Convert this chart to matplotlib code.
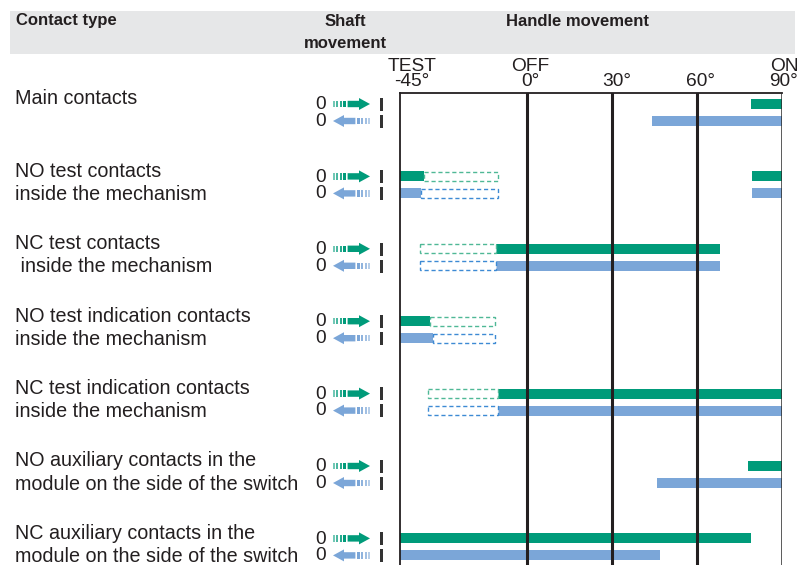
import numpy as np
import matplotlib
matplotlib.use("Agg")
import matplotlib.pyplot as plt
from matplotlib.patches import Rectangle, Polygon

# contact types (two lines where the label wraps)
labels = [
    ["Main contacts"],
    ["NO test contacts", "inside the mechanism"],
    ["NC test contacts", " inside the mechanism"],
    ["NO test indication contacts", "inside the mechanism"],
    ["NC test indication contacts", "inside the mechanism"],
    ["NO auxiliary contacts in the", "module on the side of the switch"],
    ["NC auxiliary contacts in the", "module on the side of the switch"],
]

# closed ranges of the contacts in handle degrees, per row
# solid = contact closed, dashed = closed only while the handle is held in TEST
green_solid = [[(79, 90)], [(-45, -36.5), (79.5, 90)], [(-11, 68)], [(-45, -34.5)],
               [(-10.5, 90)], [(78, 90)], [(-45, 79)]]
green_dash = [[], [(-36.5, -10.5)], [(-38, -11)], [(-34.5, -11.5)],
              [(-35, -10.5)], [], []]
blue_solid = [[(44, 90)], [(-45, -37.5), (79.5, 90)], [(-11, 68)], [(-45, -33.5)],
              [(-10.5, 90)], [(46, 90)], [(-45, 47)]]
blue_dash = [[], [(-37.5, -10.5)], [(-38, -11)], [(-33.5, -11.5)],
             [(-35, -10.5)], [], []]

ticks = [-45, 0, 30, 60, 90]
tick_labels = ["TEST\n-45°", "OFF\n0°", "30°", "60°", "ON\n90°"]

GREEN = "#009b7a"
BLUE = "#7ba6d8"
GREEN_EDGE = "#4fb896"
BLUE_EDGE = "#3d8ad4"
DARK = "#231f20"
FS = 14.2

plt.rcParams['font.family'] = ['Liberation Sans', 'DejaVu Sans']

fig = plt.figure(figsize=(8.08, 5.65), dpi=100)

# background axes in pixel units for header, labels and shaft icons
bg = fig.add_axes([0, 0, 1, 1])
bg.set_xlim(0, 808)
bg.set_ylim(565, 0)
bg.axis("off")

bg.add_patch(Rectangle((10, 11), 785, 43, color="#e6e7e8", lw=0))
hdr = dict(weight="bold", fontsize=12, color=DARK, va="center")
bg.text(16, 21, "Contact type", ha="left", **hdr)
bg.text(345, 21, "Shaft", ha="center", **hdr)
bg.text(345, 43, "movement", ha="center", **hdr)
bg.text(577, 21, "Handle movement", ha="center", **hdr)

row0, row_step, half = 112.5, 72.4, 8.5
rows = [row0 + row_step * i for i in range(len(labels))]


def arrow(ax, x0, y, right, color):
    # striped tail followed by a solid arrow
    stripes = [(0, 1.6), (3.2, 5.0), (6.6, 8.9), (10.4, 13.4)]
    alphas = [0.55, 0.7, 0.85, 1.0]
    s = 1 if right else -1
    for (a, b), al in zip(stripes, alphas):
        xa = x0 + s * a
        xb = x0 + s * b
        ax.add_patch(Rectangle((min(xa, xb), y - 3.2), abs(xb - xa), 6.4,
                               color=color, alpha=al, lw=0))
    pts = [(14.6, -3.2), (26, -3.2), (26, -6.0), (37, 0), (26, 6.0),
           (26, 3.2), (14.6, 3.2)]
    ax.add_patch(Polygon([(x0 + s * px, y + py) for px, py in pts],
                         closed=True, color=color, lw=0))


for i, lab in enumerate(labels):
    yc = rows[i]
    bg.text(15, yc - 13.5, lab[0], fontsize=FS, color=DARK, va="center")
    if len(lab) > 1:
        bg.text(15, yc + 9.5, lab[1], fontsize=FS, color=DARK, va="center")
    # both shaft positions as one two-line text
    bg.text(321, yc + 0.5, "0\n0", fontsize=13.8, color=DARK, ha="center",
            va="center", linespacing=0.97)
    for y, right, col in [(yc - half, True, GREEN), (yc + half, False, BLUE)]:
        bg.add_patch(Rectangle((380, y - 6.3), 2.5, 13, color="#333333", lw=0))
        if right:
            arrow(bg, 333, y, True, col)
        else:
            arrow(bg, 370, y, False, col)

# switching diagram
ax = fig.add_axes([400 / 808, 0, 382 / 808, 472 / 565])
ax.set_xlim(-45, 90)
ax.set_ylim(565, 93)
ax.patch.set_alpha(0)

bh = 10
for i in range(len(labels)):
    yg = rows[i] - half
    yb = rows[i] + half
    for a, b in green_solid[i]:
        ax.barh(yg, b - a, left=a, height=bh, color=GREEN, lw=0, zorder=2)
    for a, b in blue_solid[i]:
        ax.barh(yb, b - a, left=a, height=bh, color=BLUE, lw=0, zorder=2)
    for a, b in green_dash[i]:
        ax.barh(yg, b - a, left=a, height=bh - 1, facecolor="white",
                edgecolor=GREEN_EDGE, lw=1, linestyle=(0, (3, 2)), zorder=2)
    for a, b in blue_dash[i]:
        ax.barh(yb, b - a, left=a, height=bh - 1, facecolor="white",
                edgecolor=BLUE_EDGE, lw=1, linestyle=(0, (3, 2)), zorder=2)

for t in [0, 30, 60]:
    ax.axvline(t, color=DARK, lw=2.2, zorder=3)
ax.axvline(90, color="#2b2b2b", lw=1.8, zorder=3)

for side in ["right", "bottom"]:
    ax.spines[side].set_visible(False)
ax.spines["left"].set_linewidth(1.3)
ax.spines["top"].set_linewidth(1.3)
ax.spines["left"].set_color(DARK)
ax.spines["top"].set_color(DARK)
ax.set_xticks([])
ax.set_yticks([])

offsets = [12, 3, 4, 3, 2]
for t, lab, off in zip(ticks, tick_labels, offsets):
    ax.annotate(lab, xy=(t, 1), xycoords=("data", "axes fraction"),
                xytext=(off * 0.72, 2), textcoords="offset points",
                ha="center", va="bottom", fontsize=13.8, color=DARK,
                linespacing=0.88, annotation_clip=False)

fig.savefig("out.png", dpi=100)
